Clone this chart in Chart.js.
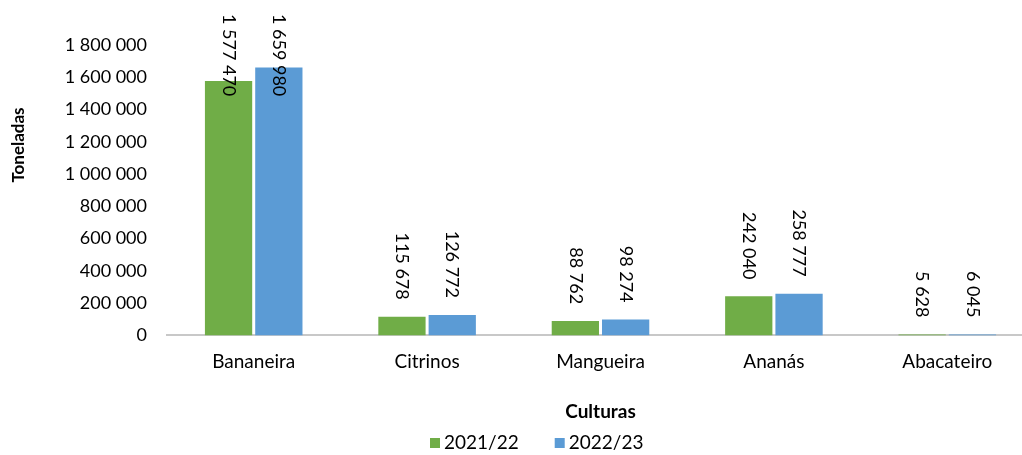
<!DOCTYPE html>
<html>
<head>
<meta charset="utf-8">
<script src="https://cdn.jsdelivr.net/npm/chart.js@4"></script>
<style>
html,body{margin:0;padding:0;background:#fff;overflow:hidden;}
#wrap{width:1034px;height:455px;position:relative;}
</style>
</head>
<body>
<div id="wrap"><canvas id="c"></canvas></div>
<script>
const categories = ["Bananeira", "Citrinos", "Mangueira", "Ananás", "Abacateiro"];
const seriesNames = ["2021/22", "2022/23"];
const values2021 = [1577470, 115678, 88762, 242040, 5628];
const values2022 = [1659980, 126772, 98274, 258777, 6045];
const yTicks = [0, 200000, 400000, 600000, 800000, 1000000, 1200000, 1400000, 1600000, 1800000];
const colors = ['#70AD47', '#5B9BD5'];

const FONT = "Lato";
function fmt(v){ return String(Math.round(v)).replace(/\B(?=(\d{3})+(?!\d))/g, " "); }

const labelPlugin = {
  id: 'rotLabels',
  afterDatasetsDraw(chart){
    const ctx = chart.ctx;
    ctx.save();
    ctx.font = "18px " + FONT;
    ctx.fillStyle = "#000";
    chart.data.datasets.forEach((ds, di) => {
      const meta = chart.getDatasetMeta(di);
      meta.data.forEach((bar, i) => {
        const t = fmt(ds.data[i]);
        const w = ctx.measureText(t).width;
        let start = bar.y - 17 - w;
        if (start < 14) start = 14;
        ctx.save();
        ctx.translate(bar.x, start);
        ctx.rotate(Math.PI/2);
        ctx.textAlign = "left";
        ctx.textBaseline = "middle";
        ctx.fillText(t, 0, 0);
        ctx.restore();
      });
    });
    ctx.restore();
  }
};

const extrasPlugin = {
  id: 'extras',
  afterDraw(chart){
    const ctx = chart.ctx;
    ctx.save();
    ctx.font = "bold 17px " + FONT;
    ctx.fillStyle = "#000";
    ctx.translate(19, 145);
    ctx.rotate(-Math.PI/2);
    ctx.textAlign = "center";
    ctx.textBaseline = "middle";
    ctx.fillText("Toneladas", 0, 0);
    ctx.restore();
    ctx.save();
    ctx.font = "19px " + FONT;
    ctx.textBaseline = "middle";
    ctx.textAlign = "left";
    let x = 430;
    const yc = 443;
    chart.data.datasets.forEach((ds) => {
      ctx.fillStyle = ds.backgroundColor;
      ctx.fillRect(x, yc - 5, 10, 10);
      ctx.fillStyle = "#000";
      ctx.fillText(ds.label, x + 14, yc);
      x += 14 + ctx.measureText(ds.label).width + 36;
    });
    ctx.restore();
  }
};

new Chart(document.getElementById('c'), {
  type: 'bar',
  data: {
    labels: categories,
    datasets: [
      { label: seriesNames[0], data: values2021, backgroundColor: colors[0], categoryPercentage: 0.58, barPercentage: 0.94 },
      { label: seriesNames[1], data: values2022, backgroundColor: colors[1], categoryPercentage: 0.58, barPercentage: 0.94 }
    ]
  },
  options: {
    responsive: true,
    maintainAspectRatio: false,
    animation: false,
    layout: { padding: { top: 45, right: 0, left: 0, bottom: 32 } },
    plugins: {
      legend: { display: false },
      tooltip: { enabled: false }
    },
    scales: {
      x: {
        grid: { display: false, drawTicks: false },
        border: { display: true, color: '#C8C8C8', width: 2 },
        ticks: { font: { family: FONT, size: 19 }, color: '#000', padding: 15 },
        title: { display: true, text: 'Culturas', font: { family: FONT, size: 19, weight: 'bold' }, color: '#000', padding: { top: 12, bottom: 0 } }
      },
      y: {
        min: 0, max: 1800000,
        afterBuildTicks(axis){ axis.ticks = yTicks.map(v => ({ value: v })); },
        afterFit(axis){ axis.width = 167; },
        grid: { display: false, drawTicks: false },
        border: { display: false },
        ticks: { font: { family: FONT, size: 18 }, color: '#000', padding: 20, callback: v => fmt(v) },
        title: { display: false }
      }
    }
  },
  plugins: [labelPlugin, extrasPlugin]
});
</script>
</body>
</html>
